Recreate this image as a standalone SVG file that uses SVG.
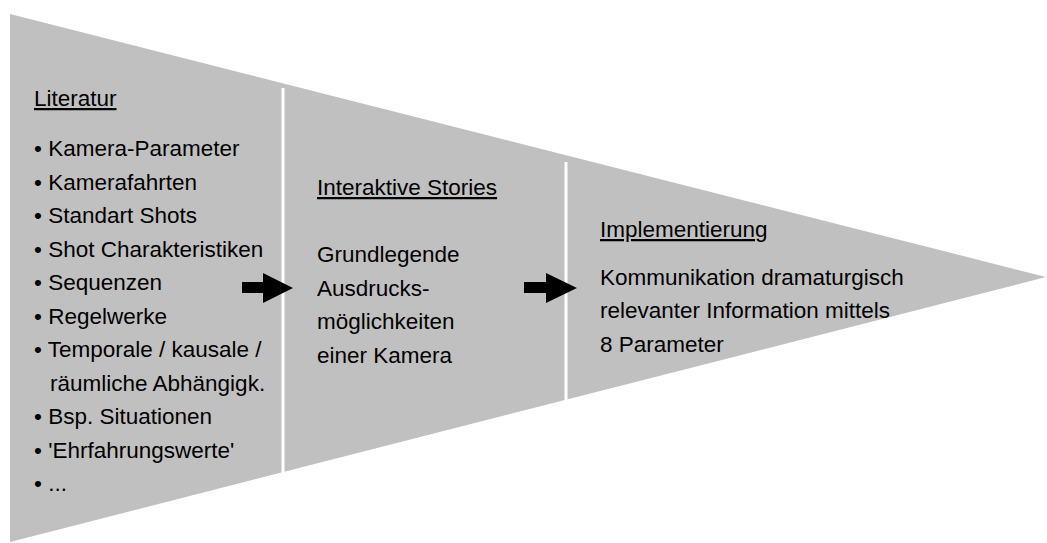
<svg xmlns="http://www.w3.org/2000/svg" width="1047" height="543" viewBox="0 0 1047 543">
<style>
text{font-family:"Liberation Sans",Arial,sans-serif;font-size:22.5px;fill:#000}
.u{text-decoration:underline}
.sep{stroke:#fff;stroke-width:3}
.arr{fill:#000}
</style>
<rect width="1047" height="543" fill="#fff"/>
<polygon id="funnel" points="10,14 1046,277 10,542" fill="#c0c0c0"/>
<g id="separators">
<line class="sep" x1="283" y1="88" x2="283" y2="475"/>
<line class="sep" x1="566" y1="162" x2="566" y2="405"/>
</g>
<g id="node-literatur">
<text class="u" x="34" y="106">Literatur</text>
<text x="34" y="156">• Kamera-Parameter</text>
<text x="34" y="189.5">• Kamerafahrten</text>
<text x="34" y="223">• Standart Shots</text>
<text x="34" y="256.5">• Shot Charakteristiken</text>
<text x="34" y="290">• Sequenzen</text>
<text x="34" y="323.5">• Regelwerke</text>
<text x="34" y="357">• Temporale / kausale /</text>
<text x="50" y="390.5">räumliche Abhängigk.</text>
<text x="34" y="424">• Bsp. Situationen</text>
<text x="34" y="457.5">• 'Ehrfahrungswerte'</text>
<text x="34" y="491">• ...</text>
</g>
<g id="node-interaktive">
<text class="u" x="317" y="195">Interaktive Stories</text>
<text x="317" y="262">Grundlegende</text>
<text x="317" y="295.5">Ausdrucks-</text>
<text x="317" y="329">möglichkeiten</text>
<text x="317" y="362.5">einer Kamera</text>
</g>
<g id="node-implementierung">
<text class="u" x="600" y="237">Implementierung</text>
<text x="600" y="284.5">Kommunikation dramaturgisch</text>
<text x="600" y="318">relevanter Information mittels</text>
<text x="600" y="351.5">8 Parameter</text>
</g>
<g id="connectors">
<polygon class="arr" points="242,282 263,282 263,273 293,288 263,303 263,293 242,293"/>
<polygon class="arr" points="524,282 546,282 546,273 577,288 546,303 546,293 524,293"/>
</g>
</svg>
